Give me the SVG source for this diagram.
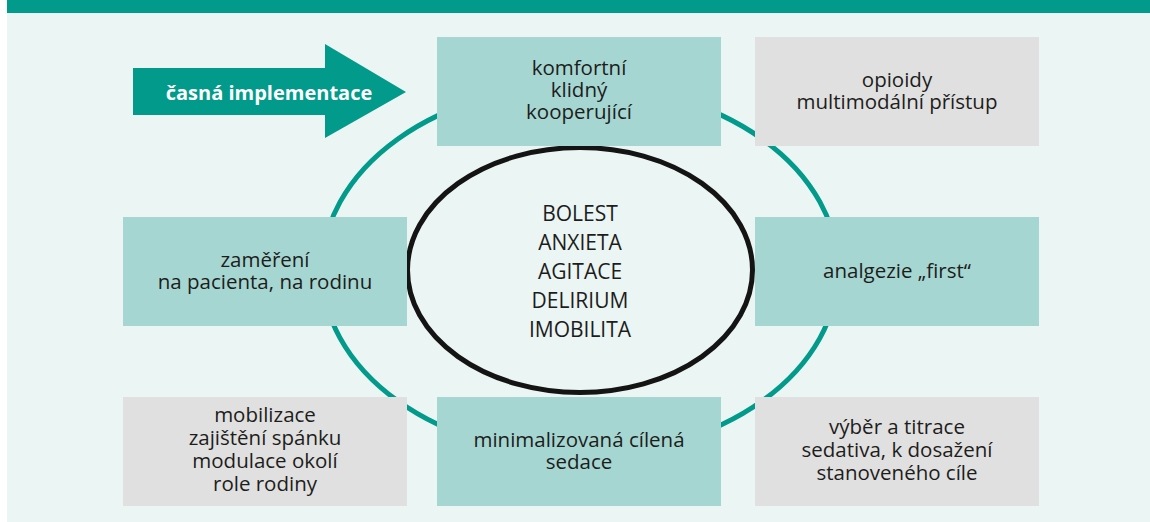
<svg xmlns="http://www.w3.org/2000/svg" width="1150" height="522" viewBox="0 0 1150 522">
<style>
.box{fill:#a6d6d2}
.gray{fill:#e0e0e0}
.t{font-family:"Open Sans","Noto Sans",sans-serif;font-size:20.5px;fill:#1d1d1b;text-anchor:middle}
.c{font-family:"Open Sans","Noto Sans",sans-serif;font-size:21px;fill:#1d1d1b;text-anchor:middle}
</style>
<rect x="0" y="0" width="1150" height="522" fill="#ffffff"/>
<rect x="7" y="13" width="1143" height="509" fill="#ebf5f4"/>
<rect x="7" y="0" width="1143" height="13" fill="#029a8a"/>
<g id="connectors">
<ellipse cx="580" cy="270" rx="258" ry="185" fill="none" stroke="#029a8a" stroke-width="5"/>
</g>
<g id="arrow">
<polygon points="133,68 325,68 325,44 406,92 325,138 325,115 133,115" fill="#029a8a"/>
<text x="269" y="100" font-family="'Open Sans','Noto Sans',sans-serif" font-size="20" font-weight="bold" fill="#ffffff" text-anchor="middle">časná implementace</text>
</g>
<g id="center">
<ellipse cx="580" cy="270" rx="172.5" ry="122.5" fill="#ebf5f4" stroke="#141414" stroke-width="5"/>
<text class="c"><tspan x="580" y="221">BOLEST</tspan><tspan x="580" y="250">ANXIETA</tspan><tspan x="580" y="279">AGITACE</tspan><tspan x="580" y="308">DELIRIUM</tspan><tspan x="580" y="337">IMOBILITA</tspan></text>
</g>
<g id="top-center">
<rect class="box" x="437" y="37" width="284" height="109"/>
<text class="t"><tspan x="579" y="75">komfortní</tspan><tspan x="579" y="97">klidný</tspan><tspan x="579" y="119">kooperující</tspan></text>
</g>
<g id="top-right">
<rect class="gray" x="755" y="37" width="284" height="109"/>
<text class="t"><tspan x="897" y="87">opioidy</tspan><tspan x="897" y="109">multimodální přístup</tspan></text>
</g>
<g id="mid-left">
<rect class="box" x="123" y="217" width="284" height="109"/>
<text class="t"><tspan x="265" y="267">zaměření</tspan><tspan x="265" y="289">na pacienta, na rodinu</tspan></text>
</g>
<g id="mid-right">
<rect class="box" x="755" y="217" width="284" height="109"/>
<text class="t" x="897" y="278">analgezie „first“</text>
</g>
<g id="bottom-left">
<rect class="gray" x="123" y="397" width="284" height="109"/>
<text class="t"><tspan x="265" y="422">mobilizace</tspan><tspan x="265" y="445">zajištění spánku</tspan><tspan x="265" y="468">modulace okolí</tspan><tspan x="265" y="491">role rodiny</tspan></text>
</g>
<g id="bottom-center">
<rect class="box" x="437" y="397" width="284" height="109"/>
<text class="t"><tspan x="579" y="447">minimalizovaná cílená</tspan><tspan x="579" y="469">sedace</tspan></text>
</g>
<g id="bottom-right">
<rect class="gray" x="755" y="397" width="284" height="109"/>
<text class="t"><tspan x="897" y="434">výběr a titrace</tspan><tspan x="897" y="457">sedativa, k dosažení</tspan><tspan x="897" y="480">stanoveného cíle</tspan></text>
</g>
</svg>
